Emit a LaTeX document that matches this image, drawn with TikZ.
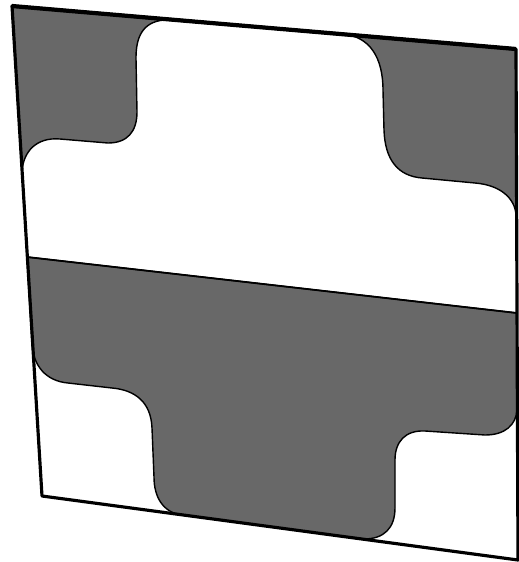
\documentclass[tikz,border=0pt]{standalone}
\usepackage{tikz}
\definecolor{tilegray}{RGB}{104,104,104}

\begin{document}
\begin{tikzpicture}[x=0.02cm,y=-0.02cm,
  piece/.style={fill=tilegray,draw=black,line width=0.8pt,line join=round},
  frame/.style={draw=black,line width=1.8pt,line join=round},
  seam/.style={draw=black,line width=1pt},
]
\useasboundingbox (0,0) rectangle (519,562);
\coordinate (tl) at (12,6);
\coordinate (tr) at (516,49);
\coordinate (br) at (518,560);
\coordinate (bl) at (42,496);
\coordinate (ml) at (27,257);
\coordinate (mr) at (517,313);
% upper corners
\path[piece] (tl) -- (164,20) .. controls (142,22) and (136,38) .. (136,58)
  -- (137,112) .. controls (137,132) and (127,143) .. (108,143)
  -- (60,139) .. controls (36,137) and (23,152) .. (22,172) -- cycle;
\path[piece] (342,34) .. controls (370,36) and (383,58) .. (383,90)
  -- (384,130) .. controls (385,160) and (398,176) .. (422,178)
  -- (475,183) .. controls (500,185) and (515,198) .. (516,215) -- (tr) -- cycle;
% lower half
\path[piece] (ml) -- (mr) -- (517,410) .. controls (516,425) and (505,435) .. (485,435)
  -- (425,431) .. controls (405,430) and (395,442) .. (395,460)
  -- (395,508) .. controls (395,528) and (384,539) .. (364,539)
  -- (181,515) .. controls (163,512) and (154,497) .. (154,477)
  -- (152,428) .. controls (151,402) and (135,390) .. (112,388)
  -- (68,383) .. controls (46,381) and (33,366) .. (32,343) -- cycle;
\draw[seam] (ml) -- (mr);
% outline
\draw[frame] (tl) -- (tr) -- (br) -- (bl) -- cycle;
\draw[frame,line width=2.4pt] (tl) -- (tr);
\end{tikzpicture}
\end{document}
